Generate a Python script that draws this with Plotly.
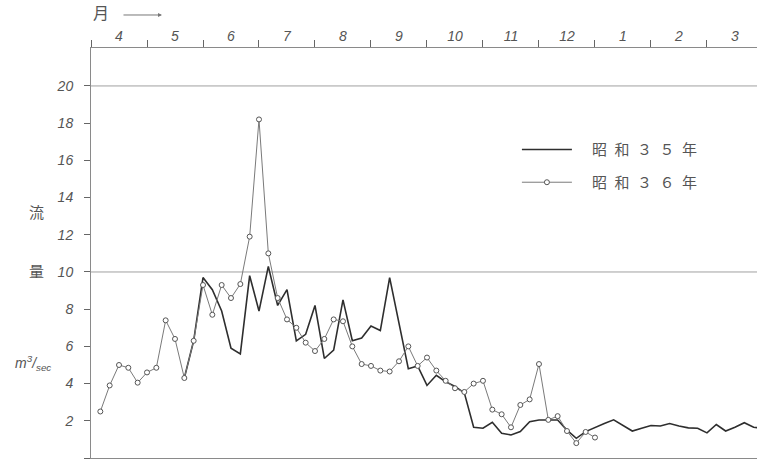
import plotly.graph_objects as go

# 5-day periods (半旬) counted from 1 April; 6 per month
months = ["4", "5", "6", "7", "8", "9", "10", "11", "12", "1", "2", "3"]

pentad_s35 = list(range(10, 73))
flow_s35 = [
    4.3, 6.3, 9.7, 9.05, 7.9, 5.9, 5.6, 9.8, 7.9, 10.3,
    8.2, 9.05, 6.3, 6.65, 8.2, 5.35, 5.8, 8.5, 6.3, 6.45,
    7.1, 6.85, 9.7, 7.3, 4.8, 4.95, 3.9, 4.45, 4.1, 3.85,
    3.5, 1.65, 1.6, 1.92, 1.33, 1.24, 1.42, 1.95, 2.04, 2.04,
    2.04, 1.5, 1.06, 1.42, 1.65, 1.85, 2.05, 1.75, 1.45, 1.6,
    1.75, 1.72, 1.85, 1.72, 1.62, 1.6, 1.35, 1.8, 1.45, 1.65,
    1.9, 1.65, 1.6,
]

pentad_s36 = list(range(1, 55))
flow_s36 = [
    2.5, 3.9, 5.0, 4.85, 4.05, 4.6, 4.85, 7.4, 6.4, 4.3,
    6.3, 9.3, 7.7, 9.3, 8.6, 9.35, 11.9, 18.2, 11.0, 8.6,
    7.45, 7.0, 6.2, 5.75, 6.4, 7.45, 7.35, 6.0, 5.05, 4.95,
    4.7, 4.65, 5.2, 6.0, 4.95, 5.4, 4.7, 4.15, 3.75, 3.55,
    4.0, 4.15, 2.6, 2.35, 1.65, 2.85, 3.15, 5.05, 2.05, 2.25,
    1.45, 0.8, 1.4, 1.1,
]

y_ticks = list(range(0, 21, 2))
grid_levels = [10, 20]

INK = "#555555"
AXIS = "#8a8a8a"
FONT = "Liberation Sans, Noto Sans CJK JP, sans-serif"
SP = "\u2002"   # en space between legend characters
LEAD = "\u3000"  # gap between legend sample and its label

fig = go.Figure()

fig.add_trace(go.Scatter(
    x=pentad_s35, y=flow_s35, mode="lines",
    name=LEAD + SP.join("昭和３５年"),
    line=dict(color="#2e2e2e", width=1.6), legend="legend",
))
fig.add_trace(go.Scatter(
    x=pentad_s36, y=flow_s36, mode="lines+markers",
    name=LEAD + SP.join("昭和３６年"),
    line=dict(color="#7a7a7a", width=1),
    marker=dict(symbol="circle", size=5, color="white",
                line=dict(color="#555555", width=1)),
    legend="legend2",
))

for lvl in grid_levels:
    fig.add_shape(type="line", xref="paper", x0=0, x1=1, yref="y", y0=lvl, y1=lvl,
                  line=dict(color="#a0a0a0", width=1), layer="below")

x_range = [0, 71.36]
legend_style = dict(xanchor="left", yanchor="middle", bgcolor="rgba(0,0,0,0)",
                    itemwidth=50, font=dict(size=15, color=INK))
fig.update_layout(
    width=757, height=459,
    margin=dict(l=91, r=0, t=48, b=1),
    paper_bgcolor="white", plot_bgcolor="white",
    font=dict(family=FONT, color=INK, size=13),
    showlegend=True,
    xaxis=dict(
        range=x_range, side="top", showline=True, linecolor=AXIS, linewidth=1,
        mirror=True, ticks="", tickvals=[3 + 6 * i for i in range(12)],
        ticktext=[f"<i>{m}</i>" for m in months],
        ticklabelstandoff=0, tickfont=dict(size=14, color=INK),
        minor=dict(tickmode="linear", tick0=0, dtick=6, ticks="outside",
                   ticklen=7, tickcolor="#666666", showgrid=False),
        showgrid=False, zeroline=False,
    ),
    yaxis=dict(
        range=[0, 22.04], tickvals=y_ticks,
        ticktext=[f"<i>{v}</i>" for v in y_ticks],
        ticks="outside", ticklen=6, tickcolor="#666666",
        ticklabelstandoff=8, tickfont=dict(size=14, color=INK),
        showline=True, linecolor=AXIS, linewidth=1,
        showgrid=False, zeroline=False,
    ),
    legend=dict(x=0.6395, y=0.752, **legend_style),
    legend2=dict(x=0.6395, y=0.672, **legend_style),
)

# Axis titles: 流量 (m³/sec) stacked at the left, month marker at the top
fig.add_annotation(xref="paper", yref="paper", x=-0.096, y=0.598, text="流",
                   showarrow=False, font=dict(size=15, color=INK))
fig.add_annotation(xref="paper", yref="paper", x=-0.096, y=0.454, text="量",
                   showarrow=False, font=dict(size=15, color=INK))
fig.add_annotation(xref="paper", yref="paper", x=-0.0571, y=0.232,
                   xanchor="right", yanchor="middle",
                   text="<i>m<sup>3</sup>/<sub>sec</sub></i>",
                   showarrow=False, font=dict(size=14, color=INK))
fig.add_annotation(xref="paper", yref="paper", x=0.0, y=1.083,
                   xanchor="left", yanchor="middle", text="月",
                   showarrow=False, font=dict(size=16, color=INK))
fig.add_annotation(xref="paper", yref="paper", x=0.1066, y=1.0805,
                   ax=-40, ay=0, axref="pixel", ayref="pixel",
                   text="", showarrow=True, arrowhead=2, arrowsize=0.8,
                   arrowwidth=1, arrowcolor="#777777")

fig.write_html("out.html")
